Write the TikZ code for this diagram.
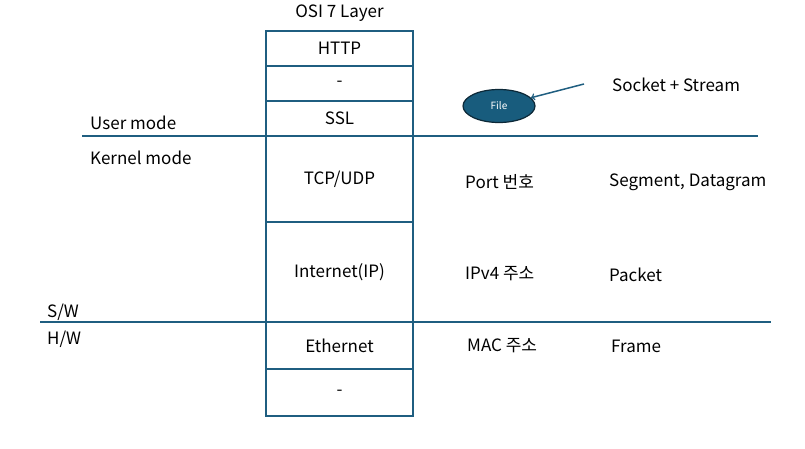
\documentclass[tikz,border=0pt]{standalone}
\usepackage{fontspec}
\setmainfont{Noto Sans CJK KR}
\usetikzlibrary{positioning,shapes.geometric}
\definecolor{osiblue}{RGB}{31,94,128}
\definecolor{filefill}{RGB}{24,92,125}
\definecolor{fileedge}{RGB}{12,40,55}
\begin{document}
\begin{tikzpicture}[x=1pt,y=-1pt,
    every node/.style={font=\fontsize{17}{20}\selectfont},
    layer/.style={draw=osiblue,line width=2pt,minimum width=147pt,inner sep=0pt,outer sep=0pt},
    label/.style={anchor=west,inner sep=0pt}]
        \useasboundingbox (0,0) rectangle (805,449);

        \node (title) at (339.5,13) {OSI 7 Layer};

        \node (http)  [layer,minimum height=35pt] at (339.5,48.5) {HTTP};
        \node (dasha) [layer,minimum height=35pt,below=0pt of http]  {-};
        \node (ssl)   [layer,minimum height=35pt,below=0pt of dasha] {SSL};
        \node (tcp)   [layer,minimum height=86pt,below=0pt of ssl]   {TCP/UDP};
        \node (ip)    [layer,minimum height=100pt,below=0pt of tcp]  {Internet(IP)};
        \node (eth)   [layer,minimum height=47pt,below=0pt of ip]    {Ethernet};
        \node (dashb) [layer,minimum height=47pt,below=0pt of eth]   {-};

        \coordinate (userl)  at (82,136);
        \coordinate (userr)  at (758,136);
        \coordinate (swl)    at (40,322);
        \coordinate (swr)    at (771,322);
        \draw [osiblue,line width=2pt] (userl) -- (userr);
        \draw [osiblue,line width=2pt] (swl) -- (swr);

        \node (user)   [label] at (90,123) {User mode};
        \node (kernel) [label] at (90,158) {Kernel mode};
        \node (sw)     [label] at (47,312) {S/W};
        \node (hw)     [label] at (47,339) {H/W};

        \node (file) [ellipse,draw=fileedge,fill=filefill,line width=1.2pt,
                      minimum width=72pt,minimum height=33pt,text=white,
                      font=\fontsize{10}{12}\selectfont] at (499,106) {File};
        \node (socket) [label] at (612,85) {Socket + Stream};
        \coordinate (sockettail) at (584,84);
        \draw [->,osiblue,line width=1.5pt] (sockettail) to (file);

        \node (port)    [label] at (465,182) {Port 번호};
        \node (segment) [label] at (609,182) {Segment, Datagram};
        \node (ipv4)    [label] at (465,274) {IPv4 주소};
        \node (packet)  [label] at (609,275) {Packet};
        \node (mac)     [label] at (467,346) {MAC 주소};
        \node (frame)   [label] at (611,346) {Frame};
      \end{tikzpicture}
\end{document}
